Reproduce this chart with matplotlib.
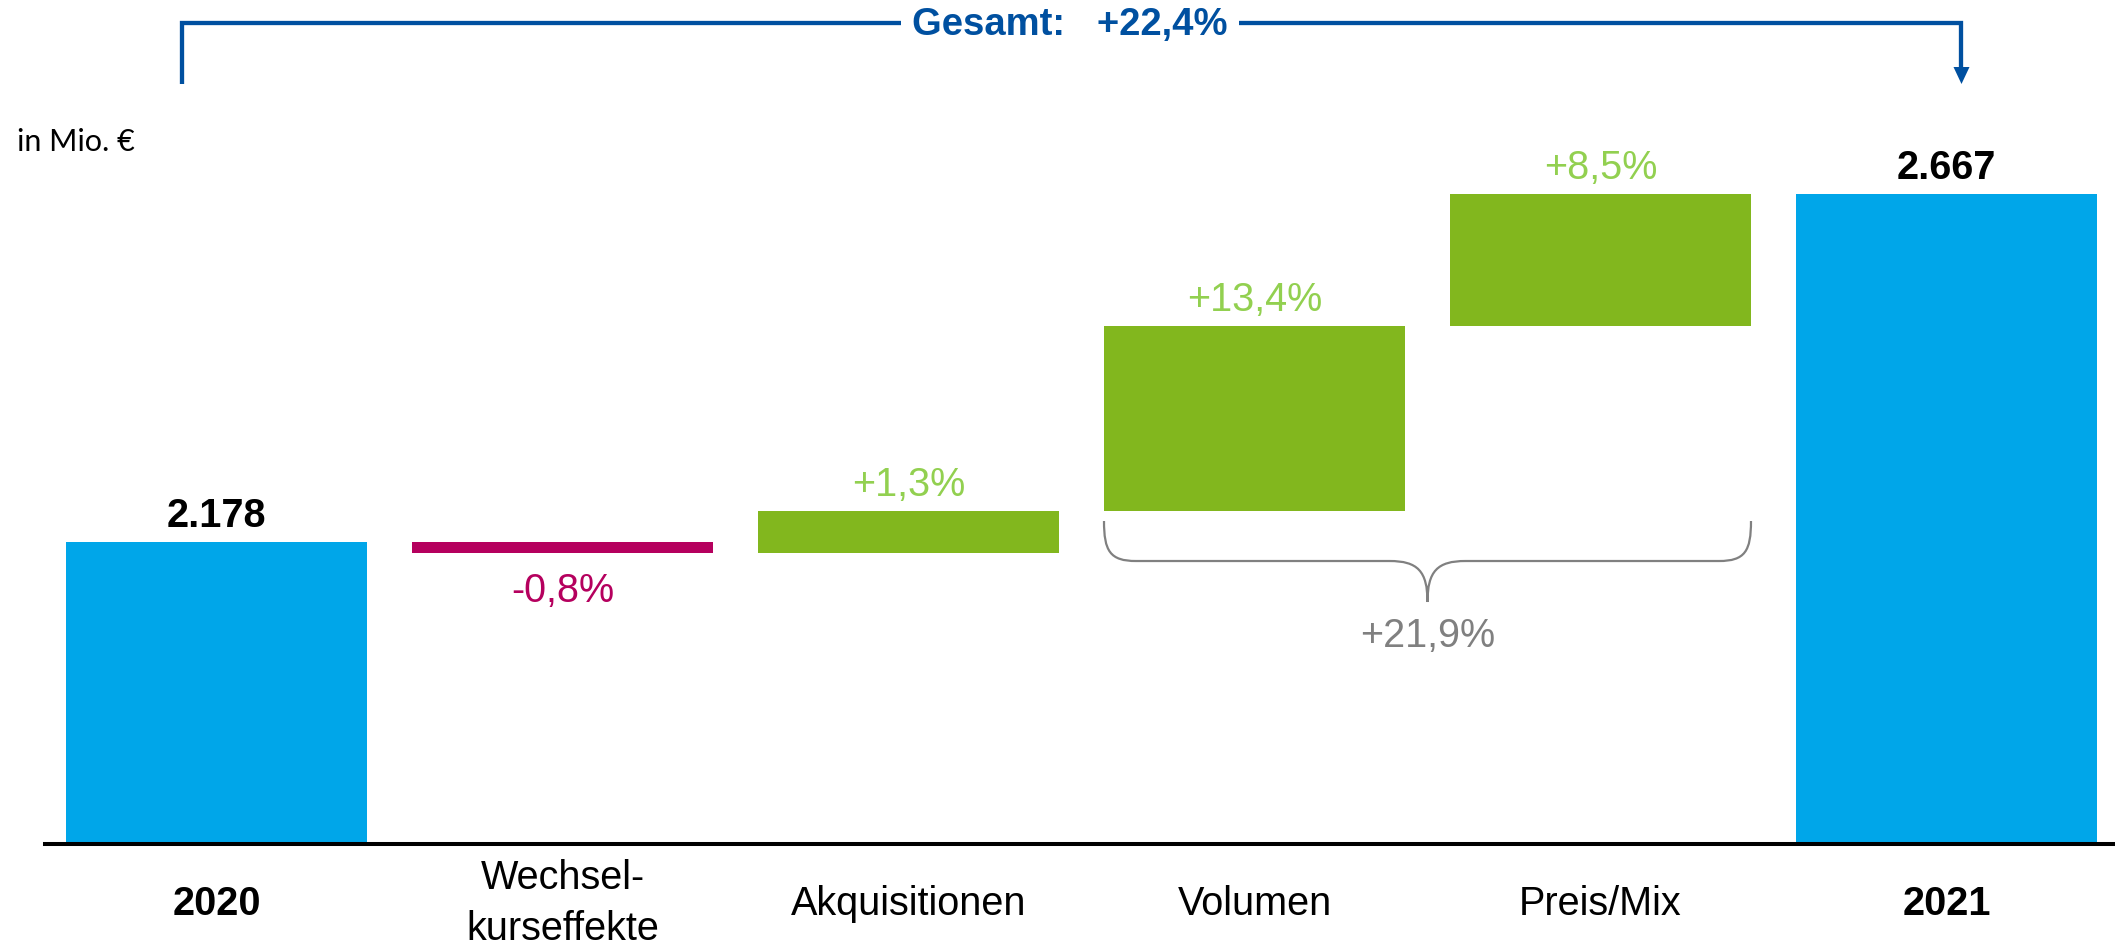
import matplotlib
matplotlib.use("Agg")
import matplotlib.pyplot as plt
from matplotlib.path import Path
from matplotlib.patches import PathPatch, Polygon

# ---------------- data ----------------
categories = ["2020", "Wechsel-\nkurseffekte", "Akquisitionen", "Volumen", "Preis/Mix", "2021"]
start_value = 2178          # Mio. EUR
deltas = [-15.5, 59, 260, 185.5]   # bar heights (Mio. EUR)
end_value = 2667
delta_labels = ["-0,8%", "+1,3%", "+13,4%", "+8,5%"]
brace_label = "+21,9%"
total_label = "Gesamt:   +22,4%"
unit_label = "in Mio. \u20ac"

# ---------------- style ----------------
C_TOTAL = "#00A6E9"
C_NEG = "#B5005E"
C_POS = "#82B71E"
C_POS_TXT = "#92D050"
C_GRAY = "#808080"
C_DBLUE = "#0050A0"
FONT = "Liberation Sans"

W, H, DPI = 2115, 945, 100
fig = plt.figure(figsize=(W / DPI, H / DPI), dpi=DPI)
fig.patch.set_facecolor("white")

ax_left, ax_base = 45, 845   # pixels
ax = fig.add_axes([ax_left / W, (H - ax_base) / H, (W - ax_left) / W, ax_base / H])

px_per_unit = 0.71166
y0 = 1753.6
ax.set_ylim(y0, y0 + ax_base / px_per_unit)
spacing_px = 346.0
c0_px = 216.5
ax.set_xlim(-(c0_px - ax_left) / spacing_px, (W - c0_px) / spacing_px)
bw = 301 / spacing_px

# waterfall geometry
n = len(categories)
bottoms, heights, colors = [], [], []
bottoms.append(y0); heights.append(start_value - y0); colors.append(C_TOTAL)
level = start_value
for d in deltas:
    if d < 0:
        bottoms.append(level + d); heights.append(-d); colors.append(C_NEG)
    else:
        bottoms.append(level); heights.append(d); colors.append(C_POS)
    level += d
bottoms.append(y0); heights.append(end_value - y0); colors.append(C_TOTAL)

xs = list(range(n))
ax.bar(xs, heights, bottom=bottoms, width=bw, color=colors, linewidth=0, zorder=2)

for s in ["left", "right", "top"]:
    ax.spines[s].set_visible(False)
ax.spines["bottom"].set_linewidth(2.9)
ax.spines["bottom"].set_color("black")
ax.spines["bottom"].set_zorder(3)
ax.set_xticks([]); ax.set_yticks([])
ax.patch.set_alpha(0)

def fmt_total(v):
    return f"{v:,.0f}".replace(",", ".")

FS = 28.5
# total labels
for i, v in [(0, start_value), (n - 1, end_value)]:
    ax.annotate(fmt_total(v), xy=(i, v), xytext=(0, 16), textcoords="offset pixels",
                ha="center", va="baseline", fontsize=28.5, fontweight="bold",
                family=FONT, color="black")
# delta labels
level = start_value
for k, (d, lab) in enumerate(zip(deltas, delta_labels)):
    i = k + 1
    if d < 0:
        ax.annotate(lab, xy=(i, level + d), xytext=(0, -48), textcoords="offset pixels",
                    ha="center", va="baseline", fontsize=FS, family=FONT, color=C_NEG)
    else:
        ax.annotate(lab, xy=(i, level + d), xytext=(0, 16), textcoords="offset pixels",
                    ha="center", va="baseline", fontsize=FS, family=FONT, color=C_POS_TXT)
    level += d

# category labels
for i, cat in enumerate(categories):
    nl = cat.count("\n")
    bold = i in (0, n - 1)
    ax.annotate(cat, xy=(i, y0), xytext=(0, -40 + 26 * nl), textcoords="offset pixels",
                ha="center", va="top", fontsize=FS, family=FONT,
                fontweight="bold" if bold else "normal", color="black",
                linespacing=1.42, annotation_clip=False)

# ---------------- overlay in pixel coordinates ----------------
ov = fig.add_axes([0, 0, 1, 1])
ov.set_xlim(0, W); ov.set_ylim(H, 0); ov.axis("off"); ov.patch.set_alpha(0)

def to_px(x, y):
    dx, dy = ax.transData.transform((x, y))
    return dx, H - dy

# brace under Volumen + Preis/Mix
vol_bottom = bottoms[3]
xl, ytop = to_px(3 - bw / 2, vol_bottom)
xr, _ = to_px(4 + bw / 2, vol_bottom)
ytop += 10
ymid = ytop + 40
ytip = ymid + 41
xc = (xl + xr) / 2
r = 24
verts = [(xl, ytop), (xl, ytop + 30), (xl + 6, ymid), (xl + r + 8, ymid),
         (xc - 38, ymid),
         (xc - 10, ymid), (xc, ymid + 10), (xc, ytip),
         (xc, ymid + 10), (xc + 10, ymid), (xc + 38, ymid),
         (xr - r - 8, ymid),
         (xr - 6, ymid), (xr, ytop + 30), (xr, ytop)]
codes = [Path.MOVETO, Path.CURVE4, Path.CURVE4, Path.CURVE4,
         Path.LINETO,
         Path.CURVE4, Path.CURVE4, Path.CURVE4,
         Path.CURVE4, Path.CURVE4, Path.CURVE4,
         Path.LINETO,
         Path.CURVE4, Path.CURVE4, Path.CURVE4]
ov.add_patch(PathPatch(Path(verts, codes), facecolor="none", edgecolor=C_GRAY, lw=1.6))
ov.text(xc, ytip + 44, brace_label, ha="center", va="baseline", fontsize=FS,
        family=FONT, color=C_GRAY)

# Gesamt bracket
bx_l = to_px(0, start_value)[0] - 34
bx_r = to_px(n - 1, end_value)[0] + 15
by = 24
ov.plot([bx_l, bx_l, bx_r, bx_r], [85, by, by, 70], color=C_DBLUE, lw=3.1,
        solid_joinstyle="miter", solid_capstyle="butt")
ov.add_patch(Polygon([(bx_r - 8, 68), (bx_r + 8, 68), (bx_r, 85)], closed=True,
                     facecolor=C_DBLUE, edgecolor="none"))
ov.text(1070, 35, total_label, ha="center", va="baseline", fontsize=27.5,
        fontweight="bold", family=FONT, color=C_DBLUE,
        bbox=dict(facecolor="white", edgecolor="none", pad=8))

# unit label
ov.text(17, 151, unit_label, ha="left", va="baseline", fontsize=22,
        family="Lato", color="black")

fig.savefig("out.png", dpi=DPI, facecolor="white")
